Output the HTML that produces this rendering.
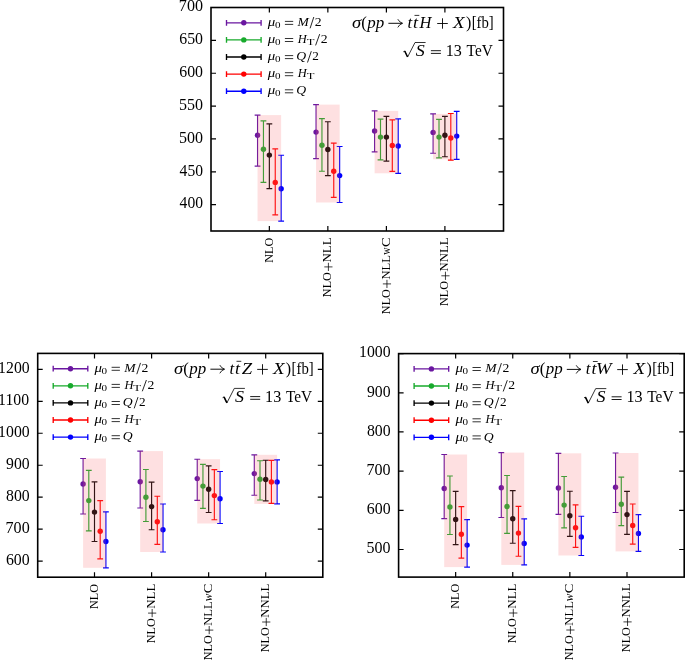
<!DOCTYPE html><html><head><meta charset="utf-8"><style>html,body{margin:0;padding:0;background:#fff;overflow:hidden;width:685px;height:660px;}svg{display:block;will-change:transform;}</style></head><body>
<svg width="685" height="660" viewBox="0 0 685 660" font-family="'Liberation Serif', serif" fill="#000">
<rect width="685" height="660" fill="#fff"/>
<text transform="translate(178.84,11.3) scale(0.9768,1)" font-size="16.5">700</text>
<text transform="translate(179.22,44.16) scale(0.9610,1)" font-size="16.5">650</text>
<text transform="translate(179.22,77.03) scale(0.9610,1)" font-size="16.5">600</text>
<text transform="translate(178.97,109.89) scale(0.9714,1)" font-size="16.5">550</text>
<text transform="translate(178.97,142.76) scale(0.9714,1)" font-size="16.5">500</text>
<text transform="translate(179.6,175.62) scale(0.9454,1)" font-size="16.5">450</text>
<text transform="translate(179.6,208.49) scale(0.9454,1)" font-size="16.5">400</text>
<g transform="translate(272.65,262.4) rotate(-90)">
<text transform="translate(-0.35,0) scale(0.9523,1)" font-size="12.8">NLO</text>
</g>
<g transform="translate(331.15,296.8) rotate(-90)">
<text transform="translate(-0.35,0) scale(0.9523,1)" font-size="12.8">NLO</text>
<path d="M25.8 -2.75H34M29.9 -6.85V1.35" stroke="#000" stroke-width="0.75" fill="none"/>
<text transform="translate(34.23,0) scale(1.0108,1)" font-size="12.8">NLL</text>
</g>
<g transform="translate(389.7,313.8) rotate(-90)">
<text transform="translate(-0.35,0) scale(0.9523,1)" font-size="12.8">NLO</text>
<path d="M25.8 -2.75H34M29.9 -6.85V1.35" stroke="#000" stroke-width="0.75" fill="none"/>
<text transform="translate(34.24,0) scale(0.9855,1)" font-size="12.8">NLL</text>
<text transform="translate(58.99,0) scale(0.7956,1)" font-size="12.8">w</text>
<text transform="translate(66.7,0) scale(1.1360,1)" font-size="12.8">C</text>
</g>
<g transform="translate(448.2,305.7) rotate(-90)">
<text transform="translate(-0.35,0) scale(0.9523,1)" font-size="12.8">NLO</text>
<path d="M25.8 -2.75H34M29.9 -6.85V1.35" stroke="#000" stroke-width="0.75" fill="none"/>
<text transform="translate(34.23,0) scale(0.9973,1)" font-size="12.8">NNLL</text>
</g>
<g stroke="#6a16a0" stroke-width="1.15" fill="#6a16a0"><path d="M257.55 115.1V166.1M254.65 115.1H260.45M254.65 166.1H260.45"/><circle cx="257.55" cy="135.3" r="2.7" stroke="none"/></g>
<g stroke="#18aa2c" stroke-width="1.15" fill="#18aa2c"><path d="M263.45 120.8V182.4M260.55 120.8H266.35M260.55 182.4H266.35"/><circle cx="263.45" cy="149.3" r="2.7" stroke="none"/></g>
<g stroke="#000000" stroke-width="1.15" fill="#000000"><path d="M269.35 123.9V188.6M266.45 123.9H272.25M266.45 188.6H272.25"/><circle cx="269.35" cy="155.1" r="2.7" stroke="none"/></g>
<g stroke="#ff0000" stroke-width="1.15" fill="#ff0000"><path d="M275.25 148.9V214.8M272.35 148.9H278.15M272.35 214.8H278.15"/><circle cx="275.25" cy="182.4" r="2.7" stroke="none"/></g>
<g stroke="#0000ff" stroke-width="1.15" fill="#0000ff"><path d="M281.15 155.2V221.1M278.25 155.2H284.05M278.25 221.1H284.05"/><circle cx="281.15" cy="188.8" r="2.7" stroke="none"/></g>
<rect x="257.55" y="115.1" width="23.6" height="106" fill="rgba(250,100,105,0.2)"/>
<g stroke="#6a16a0" stroke-width="1.15" fill="#6a16a0"><path d="M316.05 104.6V158.6M313.15 104.6H318.95M313.15 158.6H318.95"/><circle cx="316.05" cy="132.1" r="2.7" stroke="none"/></g>
<g stroke="#18aa2c" stroke-width="1.15" fill="#18aa2c"><path d="M321.95 118.6V171.2M319.05 118.6H324.85M319.05 171.2H324.85"/><circle cx="321.95" cy="145.3" r="2.7" stroke="none"/></g>
<g stroke="#000000" stroke-width="1.15" fill="#000000"><path d="M327.85 121.7V175.6M324.95 121.7H330.75M324.95 175.6H330.75"/><circle cx="327.85" cy="149.5" r="2.7" stroke="none"/></g>
<g stroke="#ff0000" stroke-width="1.15" fill="#ff0000"><path d="M333.75 143.1V197.4M330.85 143.1H336.65M330.85 197.4H336.65"/><circle cx="333.75" cy="171.2" r="2.7" stroke="none"/></g>
<g stroke="#0000ff" stroke-width="1.15" fill="#0000ff"><path d="M339.65 146.5V202.5M336.75 146.5H342.55M336.75 202.5H342.55"/><circle cx="339.65" cy="175.6" r="2.7" stroke="none"/></g>
<rect x="316.05" y="104.6" width="23.6" height="97.9" fill="rgba(250,100,105,0.2)"/>
<g stroke="#6a16a0" stroke-width="1.15" fill="#6a16a0"><path d="M374.6 110.9V151.9M371.7 110.9H377.5M371.7 151.9H377.5"/><circle cx="374.6" cy="131" r="2.7" stroke="none"/></g>
<g stroke="#18aa2c" stroke-width="1.15" fill="#18aa2c"><path d="M380.5 119.1V159.8M377.6 119.1H383.4M377.6 159.8H383.4"/><circle cx="380.5" cy="137.1" r="2.7" stroke="none"/></g>
<g stroke="#000000" stroke-width="1.15" fill="#000000"><path d="M386.4 116.4V161.1M383.5 116.4H389.3M383.5 161.1H389.3"/><circle cx="386.4" cy="137.1" r="2.7" stroke="none"/></g>
<g stroke="#ff0000" stroke-width="1.15" fill="#ff0000"><path d="M392.3 119.8V171.4M389.4 119.8H395.2M389.4 171.4H395.2"/><circle cx="392.3" cy="145.4" r="2.7" stroke="none"/></g>
<g stroke="#0000ff" stroke-width="1.15" fill="#0000ff"><path d="M398.2 118.9V173.3M395.3 118.9H401.1M395.3 173.3H401.1"/><circle cx="398.2" cy="146" r="2.7" stroke="none"/></g>
<rect x="374.6" y="110.9" width="23.6" height="62.4" fill="rgba(250,100,105,0.2)"/>
<g stroke="#6a16a0" stroke-width="1.15" fill="#6a16a0"><path d="M433.1 113.9V153.2M430.2 113.9H436M430.2 153.2H436"/><circle cx="433.1" cy="132.4" r="2.7" stroke="none"/></g>
<g stroke="#18aa2c" stroke-width="1.15" fill="#18aa2c"><path d="M439 119.4V157.9M436.1 119.4H441.9M436.1 157.9H441.9"/><circle cx="439" cy="137.1" r="2.7" stroke="none"/></g>
<g stroke="#000000" stroke-width="1.15" fill="#000000"><path d="M444.9 116.4V156.7M442 116.4H447.8M442 156.7H447.8"/><circle cx="444.9" cy="135.3" r="2.7" stroke="none"/></g>
<g stroke="#ff0000" stroke-width="1.15" fill="#ff0000"><path d="M450.8 113.5V160.1M447.9 113.5H453.7M447.9 160.1H453.7"/><circle cx="450.8" cy="138" r="2.7" stroke="none"/></g>
<g stroke="#0000ff" stroke-width="1.15" fill="#0000ff"><path d="M456.7 111.3V159.3M453.8 111.3H459.6M453.8 159.3H459.6"/><circle cx="456.7" cy="136.1" r="2.7" stroke="none"/></g>
<rect x="433.1" y="113.9" width="23.6" height="45.4" fill="rgba(250,100,105,0.2)"/>
<g stroke="#6a16a0" stroke-width="1.3499999999999999" fill="#6a16a0"><path d="M226.5 22.8H261.1M226.5 19.9V25.7M261.1 19.9V25.7"/><circle cx="243.8" cy="22.8" r="2.7" stroke="none"/></g>
<text transform="translate(267.81,26) scale(1.1922,1)" font-size="12.5" font-style="italic">μ</text>
<text transform="translate(274.88,27.9) scale(1.2602,1)" font-size="8.8">0</text>
<path d="M284.9 21.4H293.2M284.9 24.4H293.2" stroke="#000" stroke-width="0.8" fill="none"/>
<text transform="translate(297.56,26) scale(1.0869,1)" font-size="12.5" font-style="italic">M</text>
<path d="M310.1 28.3L313.8 17" stroke="#000" stroke-width="0.85" fill="none"/>
<text transform="translate(314.8,26) scale(1.0976,1)" font-size="12.5">2</text>
<g stroke="#18aa2c" stroke-width="1.3499999999999999" fill="#18aa2c"><path d="M226.5 39.9H261.1M226.5 37V42.8M261.1 37V42.8"/><circle cx="243.8" cy="39.9" r="2.7" stroke="none"/></g>
<text transform="translate(267.81,43.1) scale(1.1922,1)" font-size="12.5" font-style="italic">μ</text>
<text transform="translate(274.88,45) scale(1.2602,1)" font-size="8.8">0</text>
<path d="M284.9 38.5H293.2M284.9 41.5H293.2" stroke="#000" stroke-width="0.8" fill="none"/>
<text transform="translate(297.83,43.1) scale(0.9976,1)" font-size="12.5" font-style="italic">H</text>
<text transform="translate(306.67,44.8) scale(1.4398,1)" font-size="8.8">T</text>
<path d="M315.6 45.4L319.7 34.1" stroke="#000" stroke-width="0.85" fill="none"/>
<text transform="translate(320.7,43.1) scale(1.0976,1)" font-size="12.5">2</text>
<g stroke="#000000" stroke-width="1.3499999999999999" fill="#000000"><path d="M226.5 57H261.1M226.5 54.1V59.9M261.1 54.1V59.9"/><circle cx="243.8" cy="57" r="2.7" stroke="none"/></g>
<text transform="translate(267.81,60.2) scale(1.1922,1)" font-size="12.5" font-style="italic">μ</text>
<text transform="translate(274.88,62.1) scale(1.2602,1)" font-size="8.8">0</text>
<path d="M284.9 55.6H293.2M284.9 58.6H293.2" stroke="#000" stroke-width="0.8" fill="none"/>
<text transform="translate(296.14,60.2) scale(1.0980,1)" font-size="12.5" font-style="italic">Q</text>
<path d="M307.5 62.5L311.3 51.2" stroke="#000" stroke-width="0.85" fill="none"/>
<text transform="translate(312.32,60.2) scale(1.0577,1)" font-size="12.5">2</text>
<g stroke="#ff0000" stroke-width="1.3499999999999999" fill="#ff0000"><path d="M226.5 74.1H261.1M226.5 71.2V77M261.1 71.2V77"/><circle cx="243.8" cy="74.1" r="2.7" stroke="none"/></g>
<text transform="translate(267.81,77.3) scale(1.1922,1)" font-size="12.5" font-style="italic">μ</text>
<text transform="translate(274.88,79.2) scale(1.2602,1)" font-size="8.8">0</text>
<path d="M284.9 72.7H293.2M284.9 75.7H293.2" stroke="#000" stroke-width="0.8" fill="none"/>
<text transform="translate(297.83,77.3) scale(0.9976,1)" font-size="12.5" font-style="italic">H</text>
<text transform="translate(306.67,79) scale(1.4398,1)" font-size="8.8">T</text>
<g stroke="#0000ff" stroke-width="1.3499999999999999" fill="#0000ff"><path d="M226.5 91.2H261.1M226.5 88.3V94.1M261.1 88.3V94.1"/><circle cx="243.8" cy="91.2" r="2.7" stroke="none"/></g>
<text transform="translate(267.81,94.4) scale(1.1922,1)" font-size="12.5" font-style="italic">μ</text>
<text transform="translate(274.88,96.3) scale(1.2602,1)" font-size="8.8">0</text>
<path d="M284.9 89.8H293.2M284.9 92.8H293.2" stroke="#000" stroke-width="0.8" fill="none"/>
<text transform="translate(296.14,94.4) scale(1.0980,1)" font-size="12.5" font-style="italic">Q</text>
<text transform="translate(352.05,27.7) scale(1.1261,1)" font-size="16.5" font-style="italic">σ</text>
<text transform="translate(361.26,27.7) scale(1.0147,1)" font-size="16.5">(</text>
<text transform="translate(367.29,27.7) scale(1.0255,1)" font-size="16.5" font-style="italic">pp</text>
<path d="M388.4 23.3H402.2" stroke="#000" stroke-width="0.95" fill="none"/>
<path d="M397.8 19.2Q399.4 22.4 402.6 23.3Q399.4 24.2 397.8 27.4" stroke="#000" stroke-width="0.85" fill="none"/>
<text transform="translate(407.46,27.7) scale(1.0264,1)" font-size="16.5" font-style="italic">t</text>
<text transform="translate(413.1,27.7) scale(1.0980,1)" font-size="16.5" font-style="italic">t</text>
<path d="M414.5 15.4H419.3" stroke="#000" stroke-width="0.8"/>
<text transform="translate(419.58,27.7) scale(0.9973,1)" font-size="16.5" font-style="italic">H</text>
<path d="M437.2 23.5H447.8M442.5 18.3V28.7" stroke="#000" stroke-width="0.9" fill="none"/>
<text transform="translate(453.03,27.7) scale(1.1471,1)" font-size="16.5" font-style="italic">X</text>
<text transform="translate(465.89,27.7) scale(0.9675,1)" font-size="16.5">)</text>
<text transform="translate(471.71,27.7) scale(0.8930,1)" font-size="16.5">[fb]</text>
<path d="M403.3 51.8L404.7 51L407.6 57L415 42.5H425.6" stroke="#000" stroke-width="0.8" fill="none" stroke-linejoin="miter"/>
<path d="M404.7 51L407.6 57" stroke="#000" stroke-width="1.5" fill="none"/>
<text transform="translate(415.79,55.7) scale(1.0910,1)" font-size="16.5" font-style="italic">S</text>
<path d="M430.9 50.7H440.9M430.9 53.4H440.9" stroke="#000" stroke-width="0.9" fill="none"/>
<text transform="translate(445.78,55.7) scale(0.9788,1)" font-size="16.5">13</text>
<text transform="translate(466.62,55.7) scale(0.9294,1)" font-size="16.5">TeV</text>
<path d="M211 7.5h5.0M503.5 7.5h-5.0M211 40.37h5.0M503.5 40.37h-5.0M211 73.23h5.0M503.5 73.23h-5.0M211 106.09h5.0M503.5 106.09h-5.0M211 138.96h5.0M503.5 138.96h-5.0M211 171.82h5.0M503.5 171.82h-5.0M211 204.69h5.0M503.5 204.69h-5.0M269.35 231v-5.0M269.35 7.5v5.0M327.85 231v-5.0M327.85 7.5v5.0M386.4 231v-5.0M386.4 7.5v5.0M444.9 231v-5.0M444.9 7.5v5.0" stroke="#000" stroke-width="1.2" fill="none"/>
<rect x="211" y="7.5" width="292.5" height="223.5" fill="none" stroke="#000" stroke-width="1.6"/>
<text transform="translate(-1.89,373.1) scale(0.9573,1)" font-size="16.5">1200</text>
<text transform="translate(-1.89,405.08) scale(0.9573,1)" font-size="16.5">1100</text>
<text transform="translate(-1.89,437.06) scale(0.9573,1)" font-size="16.5">1000</text>
<text transform="translate(6.09,469.04) scale(0.9538,1)" font-size="16.5">900</text>
<text transform="translate(6,501.02) scale(0.9577,1)" font-size="16.5">800</text>
<text transform="translate(5.54,533) scale(0.9768,1)" font-size="16.5">700</text>
<text transform="translate(5.92,564.98) scale(0.9610,1)" font-size="16.5">600</text>
<g transform="translate(97.8,608.6) rotate(-90)">
<text transform="translate(-0.35,0) scale(0.9523,1)" font-size="12.8">NLO</text>
</g>
<g transform="translate(154.9,643) rotate(-90)">
<text transform="translate(-0.35,0) scale(0.9523,1)" font-size="12.8">NLO</text>
<path d="M25.8 -2.75H34M29.9 -6.85V1.35" stroke="#000" stroke-width="0.75" fill="none"/>
<text transform="translate(34.23,0) scale(1.0108,1)" font-size="12.8">NLL</text>
</g>
<g transform="translate(211.95,660) rotate(-90)">
<text transform="translate(-0.35,0) scale(0.9523,1)" font-size="12.8">NLO</text>
<path d="M25.8 -2.75H34M29.9 -6.85V1.35" stroke="#000" stroke-width="0.75" fill="none"/>
<text transform="translate(34.24,0) scale(0.9855,1)" font-size="12.8">NLL</text>
<text transform="translate(58.73,0) scale(0.8971,1)" font-size="12.8" font-style="italic">w</text>
<text transform="translate(66.7,0) scale(1.1360,1)" font-size="12.8">C</text>
</g>
<g transform="translate(269,651.9) rotate(-90)">
<text transform="translate(-0.35,0) scale(0.9523,1)" font-size="12.8">NLO</text>
<path d="M25.8 -2.75H34M29.9 -6.85V1.35" stroke="#000" stroke-width="0.75" fill="none"/>
<text transform="translate(34.23,0) scale(0.9973,1)" font-size="12.8">NNLL</text>
</g>
<g stroke="#6a16a0" stroke-width="1.15" fill="#6a16a0"><path d="M83.1 458.5V514M80.2 458.5H86M80.2 514H86"/><circle cx="83.1" cy="484" r="2.7" stroke="none"/></g>
<g stroke="#18aa2c" stroke-width="1.15" fill="#18aa2c"><path d="M88.8 470.4V530.8M85.9 470.4H91.7M85.9 530.8H91.7"/><circle cx="88.8" cy="500.6" r="2.7" stroke="none"/></g>
<g stroke="#000000" stroke-width="1.15" fill="#000000"><path d="M94.5 481.8V541.5M91.6 481.8H97.4M91.6 541.5H97.4"/><circle cx="94.5" cy="512.1" r="2.7" stroke="none"/></g>
<g stroke="#ff0000" stroke-width="1.15" fill="#ff0000"><path d="M100.2 500.6V558.8M97.3 500.6H103.1M97.3 558.8H103.1"/><circle cx="100.2" cy="531.2" r="2.7" stroke="none"/></g>
<g stroke="#0000ff" stroke-width="1.15" fill="#0000ff"><path d="M105.9 511.9V567.8M103 511.9H108.8M103 567.8H108.8"/><circle cx="105.9" cy="541.5" r="2.7" stroke="none"/></g>
<rect x="83.1" y="458.5" width="22.8" height="109.3" fill="rgba(250,100,105,0.2)"/>
<g stroke="#6a16a0" stroke-width="1.15" fill="#6a16a0"><path d="M140.2 451.1V508M137.3 451.1H143.1M137.3 508H143.1"/><circle cx="140.2" cy="481.7" r="2.7" stroke="none"/></g>
<g stroke="#18aa2c" stroke-width="1.15" fill="#18aa2c"><path d="M145.9 469.5V521.5M143 469.5H148.8M143 521.5H148.8"/><circle cx="145.9" cy="497.3" r="2.7" stroke="none"/></g>
<g stroke="#000000" stroke-width="1.15" fill="#000000"><path d="M151.6 482.1V529.7M148.7 482.1H154.5M148.7 529.7H154.5"/><circle cx="151.6" cy="506.6" r="2.7" stroke="none"/></g>
<g stroke="#ff0000" stroke-width="1.15" fill="#ff0000"><path d="M157.3 496.2V544.4M154.4 496.2H160.2M154.4 544.4H160.2"/><circle cx="157.3" cy="521.8" r="2.7" stroke="none"/></g>
<g stroke="#0000ff" stroke-width="1.15" fill="#0000ff"><path d="M163 504V552M160.1 504H165.9M160.1 552H165.9"/><circle cx="163" cy="529.7" r="2.7" stroke="none"/></g>
<rect x="140.2" y="451.1" width="22.8" height="100.9" fill="rgba(250,100,105,0.2)"/>
<g stroke="#6a16a0" stroke-width="1.15" fill="#6a16a0"><path d="M197.25 459.2V500.3M194.35 459.2H200.15M194.35 500.3H200.15"/><circle cx="197.25" cy="478.6" r="2.7" stroke="none"/></g>
<g stroke="#18aa2c" stroke-width="1.15" fill="#18aa2c"><path d="M202.95 464.3V508.4M200.05 464.3H205.85M200.05 508.4H205.85"/><circle cx="202.95" cy="486.1" r="2.7" stroke="none"/></g>
<g stroke="#000000" stroke-width="1.15" fill="#000000"><path d="M208.65 465.9V512.5M205.75 465.9H211.55M205.75 512.5H211.55"/><circle cx="208.65" cy="489.3" r="2.7" stroke="none"/></g>
<g stroke="#ff0000" stroke-width="1.15" fill="#ff0000"><path d="M214.35 469.6V519.7M211.45 469.6H217.25M211.45 519.7H217.25"/><circle cx="214.35" cy="495.6" r="2.7" stroke="none"/></g>
<g stroke="#0000ff" stroke-width="1.15" fill="#0000ff"><path d="M220.05 471.5V523.5M217.15 471.5H222.95M217.15 523.5H222.95"/><circle cx="220.05" cy="498.8" r="2.7" stroke="none"/></g>
<rect x="197.25" y="459.2" width="22.8" height="64.3" fill="rgba(250,100,105,0.2)"/>
<g stroke="#6a16a0" stroke-width="1.15" fill="#6a16a0"><path d="M254.3 454.8V495.2M251.4 454.8H257.2M251.4 495.2H257.2"/><circle cx="254.3" cy="473.6" r="2.7" stroke="none"/></g>
<g stroke="#18aa2c" stroke-width="1.15" fill="#18aa2c"><path d="M260 460.7V500M257.1 460.7H262.9M257.1 500H262.9"/><circle cx="260" cy="479.2" r="2.7" stroke="none"/></g>
<g stroke="#000000" stroke-width="1.15" fill="#000000"><path d="M265.7 460.2V500.9M262.8 460.2H268.6M262.8 500.9H268.6"/><circle cx="265.7" cy="479.5" r="2.7" stroke="none"/></g>
<g stroke="#ff0000" stroke-width="1.15" fill="#ff0000"><path d="M271.4 460.4V503.4M268.5 460.4H274.3M268.5 503.4H274.3"/><circle cx="271.4" cy="481.9" r="2.7" stroke="none"/></g>
<g stroke="#0000ff" stroke-width="1.15" fill="#0000ff"><path d="M277.1 459.9V503.9M274.2 459.9H280M274.2 503.9H280"/><circle cx="277.1" cy="481.9" r="2.7" stroke="none"/></g>
<rect x="254.3" y="454.8" width="22.8" height="49.1" fill="rgba(250,100,105,0.2)"/>
<g stroke="#6a16a0" stroke-width="1.3499999999999999" fill="#6a16a0"><path d="M53.2 368.7H87.8M53.2 365.8V371.6M87.8 365.8V371.6"/><circle cx="70.5" cy="368.7" r="2.7" stroke="none"/></g>
<text transform="translate(94.51,371.9) scale(1.1922,1)" font-size="12.5" font-style="italic">μ</text>
<text transform="translate(101.58,373.8) scale(1.2602,1)" font-size="8.8">0</text>
<path d="M111.6 367.3H119.9M111.6 370.3H119.9" stroke="#000" stroke-width="0.8" fill="none"/>
<text transform="translate(124.26,371.9) scale(1.0869,1)" font-size="12.5" font-style="italic">M</text>
<path d="M136.8 374.2L140.5 362.9" stroke="#000" stroke-width="0.85" fill="none"/>
<text transform="translate(141.5,371.9) scale(1.0976,1)" font-size="12.5">2</text>
<g stroke="#18aa2c" stroke-width="1.3499999999999999" fill="#18aa2c"><path d="M53.2 385.8H87.8M53.2 382.9V388.7M87.8 382.9V388.7"/><circle cx="70.5" cy="385.8" r="2.7" stroke="none"/></g>
<text transform="translate(94.51,389) scale(1.1922,1)" font-size="12.5" font-style="italic">μ</text>
<text transform="translate(101.58,390.9) scale(1.2602,1)" font-size="8.8">0</text>
<path d="M111.6 384.4H119.9M111.6 387.4H119.9" stroke="#000" stroke-width="0.8" fill="none"/>
<text transform="translate(124.53,389) scale(0.9976,1)" font-size="12.5" font-style="italic">H</text>
<text transform="translate(133.37,390.7) scale(1.4398,1)" font-size="8.8">T</text>
<path d="M142.3 391.3L146.4 380" stroke="#000" stroke-width="0.85" fill="none"/>
<text transform="translate(147.4,389) scale(1.0976,1)" font-size="12.5">2</text>
<g stroke="#000000" stroke-width="1.3499999999999999" fill="#000000"><path d="M53.2 402.9H87.8M53.2 400V405.8M87.8 400V405.8"/><circle cx="70.5" cy="402.9" r="2.7" stroke="none"/></g>
<text transform="translate(94.51,406.1) scale(1.1922,1)" font-size="12.5" font-style="italic">μ</text>
<text transform="translate(101.58,408) scale(1.2602,1)" font-size="8.8">0</text>
<path d="M111.6 401.5H119.9M111.6 404.5H119.9" stroke="#000" stroke-width="0.8" fill="none"/>
<text transform="translate(122.84,406.1) scale(1.0980,1)" font-size="12.5" font-style="italic">Q</text>
<path d="M134.2 408.4L138 397.1" stroke="#000" stroke-width="0.85" fill="none"/>
<text transform="translate(139.02,406.1) scale(1.0577,1)" font-size="12.5">2</text>
<g stroke="#ff0000" stroke-width="1.3499999999999999" fill="#ff0000"><path d="M53.2 420H87.8M53.2 417.1V422.9M87.8 417.1V422.9"/><circle cx="70.5" cy="420" r="2.7" stroke="none"/></g>
<text transform="translate(94.51,423.2) scale(1.1922,1)" font-size="12.5" font-style="italic">μ</text>
<text transform="translate(101.58,425.1) scale(1.2602,1)" font-size="8.8">0</text>
<path d="M111.6 418.6H119.9M111.6 421.6H119.9" stroke="#000" stroke-width="0.8" fill="none"/>
<text transform="translate(124.53,423.2) scale(0.9976,1)" font-size="12.5" font-style="italic">H</text>
<text transform="translate(133.37,424.9) scale(1.4398,1)" font-size="8.8">T</text>
<g stroke="#0000ff" stroke-width="1.3499999999999999" fill="#0000ff"><path d="M53.2 437.1H87.8M53.2 434.2V440M87.8 434.2V440"/><circle cx="70.5" cy="437.1" r="2.7" stroke="none"/></g>
<text transform="translate(94.51,440.3) scale(1.1922,1)" font-size="12.5" font-style="italic">μ</text>
<text transform="translate(101.58,442.2) scale(1.2602,1)" font-size="8.8">0</text>
<path d="M111.6 435.7H119.9M111.6 438.7H119.9" stroke="#000" stroke-width="0.8" fill="none"/>
<text transform="translate(122.84,440.3) scale(1.0980,1)" font-size="12.5" font-style="italic">Q</text>
<text transform="translate(174.05,373.6) scale(1.1261,1)" font-size="16.5" font-style="italic">σ</text>
<text transform="translate(183.26,373.6) scale(1.0147,1)" font-size="16.5">(</text>
<text transform="translate(189.29,373.6) scale(1.0255,1)" font-size="16.5" font-style="italic">pp</text>
<path d="M210.4 369.2H224.2" stroke="#000" stroke-width="0.95" fill="none"/>
<path d="M219.8 365.1Q221.4 368.3 224.6 369.2Q221.4 370.1 219.8 373.3" stroke="#000" stroke-width="0.85" fill="none"/>
<text transform="translate(229.46,373.6) scale(1.0264,1)" font-size="16.5" font-style="italic">t</text>
<text transform="translate(235.1,373.6) scale(1.0980,1)" font-size="16.5" font-style="italic">t</text>
<path d="M236.5 361.3H241.3" stroke="#000" stroke-width="0.8"/>
<text transform="translate(241.77,373.6) scale(1.1304,1)" font-size="16.5" font-style="italic">Z</text>
<path d="M257.2 369.4H267.8M262.5 364.2V374.6" stroke="#000" stroke-width="0.9" fill="none"/>
<text transform="translate(272.93,373.6) scale(1.1471,1)" font-size="16.5" font-style="italic">X</text>
<text transform="translate(285.79,373.6) scale(0.9675,1)" font-size="16.5">)</text>
<text transform="translate(291.61,373.6) scale(0.8930,1)" font-size="16.5">[fb]</text>
<path d="M222.6 397.7L224 396.9L226.9 402.9L234.3 388.4H244.9" stroke="#000" stroke-width="0.8" fill="none" stroke-linejoin="miter"/>
<path d="M224 396.9L226.9 402.9" stroke="#000" stroke-width="1.5" fill="none"/>
<text transform="translate(235.09,401.6) scale(1.0910,1)" font-size="16.5" font-style="italic">S</text>
<path d="M250.2 396.6H260.2M250.2 399.3H260.2" stroke="#000" stroke-width="0.9" fill="none"/>
<text transform="translate(265.08,401.6) scale(0.9788,1)" font-size="16.5">13</text>
<text transform="translate(285.92,401.6) scale(0.9294,1)" font-size="16.5">TeV</text>
<path d="M37.7 369.3h5.0M322.8 369.3h-5.0M37.7 401.28h5.0M322.8 401.28h-5.0M37.7 433.26h5.0M322.8 433.26h-5.0M37.7 465.24h5.0M322.8 465.24h-5.0M37.7 497.22h5.0M322.8 497.22h-5.0M37.7 529.2h5.0M322.8 529.2h-5.0M37.7 561.18h5.0M322.8 561.18h-5.0M94.5 577.2v-5.0M94.5 353.4v5.0M151.6 577.2v-5.0M151.6 353.4v5.0M208.65 577.2v-5.0M208.65 353.4v5.0M265.7 577.2v-5.0M265.7 353.4v5.0" stroke="#000" stroke-width="1.2" fill="none"/>
<rect x="37.7" y="353.4" width="285.1" height="223.8" fill="none" stroke="#000" stroke-width="1.6"/>
<text transform="translate(359.01,357.4) scale(0.9573,1)" font-size="16.5">1000</text>
<text transform="translate(366.99,396.58) scale(0.9538,1)" font-size="16.5">900</text>
<text transform="translate(366.9,435.76) scale(0.9577,1)" font-size="16.5">800</text>
<text transform="translate(366.44,474.94) scale(0.9768,1)" font-size="16.5">700</text>
<text transform="translate(366.82,514.12) scale(0.9610,1)" font-size="16.5">600</text>
<text transform="translate(366.57,553.3) scale(0.9714,1)" font-size="16.5">500</text>
<g transform="translate(458.95,608.5) rotate(-90)">
<text transform="translate(-0.35,0) scale(0.9523,1)" font-size="12.8">NLO</text>
</g>
<g transform="translate(516.05,642.9) rotate(-90)">
<text transform="translate(-0.35,0) scale(0.9523,1)" font-size="12.8">NLO</text>
<path d="M25.8 -2.75H34M29.9 -6.85V1.35" stroke="#000" stroke-width="0.75" fill="none"/>
<text transform="translate(34.23,0) scale(1.0108,1)" font-size="12.8">NLL</text>
</g>
<g transform="translate(573.15,659.9) rotate(-90)">
<text transform="translate(-0.35,0) scale(0.9523,1)" font-size="12.8">NLO</text>
<path d="M25.8 -2.75H34M29.9 -6.85V1.35" stroke="#000" stroke-width="0.75" fill="none"/>
<text transform="translate(34.24,0) scale(0.9855,1)" font-size="12.8">NLL</text>
<text transform="translate(58.73,0) scale(0.8971,1)" font-size="12.8" font-style="italic">w</text>
<text transform="translate(66.7,0) scale(1.1360,1)" font-size="12.8">C</text>
</g>
<g transform="translate(630.3,651.8) rotate(-90)">
<text transform="translate(-0.35,0) scale(0.9523,1)" font-size="12.8">NLO</text>
<path d="M25.8 -2.75H34M29.9 -6.85V1.35" stroke="#000" stroke-width="0.75" fill="none"/>
<text transform="translate(34.23,0) scale(0.9973,1)" font-size="12.8">NNLL</text>
</g>
<g stroke="#6a16a0" stroke-width="1.15" fill="#6a16a0"><path d="M444.21 454.5V518.6M441.31 454.5H447.11M441.31 518.6H447.11"/><circle cx="444.21" cy="488.5" r="2.7" stroke="none"/></g>
<g stroke="#18aa2c" stroke-width="1.15" fill="#18aa2c"><path d="M449.93 476V534.5M447.03 476H452.83M447.03 534.5H452.83"/><circle cx="449.93" cy="507" r="2.7" stroke="none"/></g>
<g stroke="#000000" stroke-width="1.15" fill="#000000"><path d="M455.65 491.4V544.6M452.75 491.4H458.55M452.75 544.6H458.55"/><circle cx="455.65" cy="519.4" r="2.7" stroke="none"/></g>
<g stroke="#ff0000" stroke-width="1.15" fill="#ff0000"><path d="M461.37 506.6V558.1M458.47 506.6H464.27M458.47 558.1H464.27"/><circle cx="461.37" cy="534.3" r="2.7" stroke="none"/></g>
<g stroke="#0000ff" stroke-width="1.15" fill="#0000ff"><path d="M467.09 519.6V567.1M464.19 519.6H469.99M464.19 567.1H469.99"/><circle cx="467.09" cy="545.1" r="2.7" stroke="none"/></g>
<rect x="444.21" y="454.5" width="22.88" height="112.6" fill="rgba(250,100,105,0.2)"/>
<g stroke="#6a16a0" stroke-width="1.15" fill="#6a16a0"><path d="M501.31 452.6V517.5M498.41 452.6H504.21M498.41 517.5H504.21"/><circle cx="501.31" cy="487.8" r="2.7" stroke="none"/></g>
<g stroke="#18aa2c" stroke-width="1.15" fill="#18aa2c"><path d="M507.03 475.5V533.4M504.13 475.5H509.93M504.13 533.4H509.93"/><circle cx="507.03" cy="506.5" r="2.7" stroke="none"/></g>
<g stroke="#000000" stroke-width="1.15" fill="#000000"><path d="M512.75 490.6V543.2M509.85 490.6H515.65M509.85 543.2H515.65"/><circle cx="512.75" cy="518.8" r="2.7" stroke="none"/></g>
<g stroke="#ff0000" stroke-width="1.15" fill="#ff0000"><path d="M518.47 506.3V556.2M515.57 506.3H521.37M515.57 556.2H521.37"/><circle cx="518.47" cy="533.1" r="2.7" stroke="none"/></g>
<g stroke="#0000ff" stroke-width="1.15" fill="#0000ff"><path d="M524.19 518.9V564.9M521.29 518.9H527.09M521.29 564.9H527.09"/><circle cx="524.19" cy="543.5" r="2.7" stroke="none"/></g>
<rect x="501.31" y="452.6" width="22.88" height="112.3" fill="rgba(250,100,105,0.2)"/>
<g stroke="#6a16a0" stroke-width="1.15" fill="#6a16a0"><path d="M558.41 453.3V514.4M555.51 453.3H561.31M555.51 514.4H561.31"/><circle cx="558.41" cy="488" r="2.7" stroke="none"/></g>
<g stroke="#18aa2c" stroke-width="1.15" fill="#18aa2c"><path d="M564.13 476.5V527.9M561.23 476.5H567.03M561.23 527.9H567.03"/><circle cx="564.13" cy="505.1" r="2.7" stroke="none"/></g>
<g stroke="#000000" stroke-width="1.15" fill="#000000"><path d="M569.85 491.2V536.4M566.95 491.2H572.75M566.95 536.4H572.75"/><circle cx="569.85" cy="515.7" r="2.7" stroke="none"/></g>
<g stroke="#ff0000" stroke-width="1.15" fill="#ff0000"><path d="M575.57 504.8V547.3M572.67 504.8H578.47M572.67 547.3H578.47"/><circle cx="575.57" cy="527.7" r="2.7" stroke="none"/></g>
<g stroke="#0000ff" stroke-width="1.15" fill="#0000ff"><path d="M581.29 516.2V555.5M578.39 516.2H584.19M578.39 555.5H584.19"/><circle cx="581.29" cy="536.9" r="2.7" stroke="none"/></g>
<rect x="558.41" y="453.3" width="22.88" height="102.2" fill="rgba(250,100,105,0.2)"/>
<g stroke="#6a16a0" stroke-width="1.15" fill="#6a16a0"><path d="M615.56 453V512.5M612.66 453H618.46M612.66 512.5H618.46"/><circle cx="615.56" cy="487.2" r="2.7" stroke="none"/></g>
<g stroke="#18aa2c" stroke-width="1.15" fill="#18aa2c"><path d="M621.28 477.1V525.6M618.38 477.1H624.18M618.38 525.6H624.18"/><circle cx="621.28" cy="504.2" r="2.7" stroke="none"/></g>
<g stroke="#000000" stroke-width="1.15" fill="#000000"><path d="M627 491.4V534.3M624.1 491.4H629.9M624.1 534.3H629.9"/><circle cx="627" cy="514.6" r="2.7" stroke="none"/></g>
<g stroke="#ff0000" stroke-width="1.15" fill="#ff0000"><path d="M632.72 504V544.1M629.82 504H635.62M629.82 544.1H635.62"/><circle cx="632.72" cy="525.5" r="2.7" stroke="none"/></g>
<g stroke="#0000ff" stroke-width="1.15" fill="#0000ff"><path d="M638.44 514.6V551.4M635.54 514.6H641.34M635.54 551.4H641.34"/><circle cx="638.44" cy="533.4" r="2.7" stroke="none"/></g>
<rect x="615.56" y="453" width="22.88" height="98.4" fill="rgba(250,100,105,0.2)"/>
<g stroke="#6a16a0" stroke-width="1.3499999999999999" fill="#6a16a0"><path d="M414.1 368.9H448.7M414.1 366V371.8M448.7 366V371.8"/><circle cx="431.4" cy="368.9" r="2.7" stroke="none"/></g>
<text transform="translate(455.41,372.1) scale(1.1922,1)" font-size="12.5" font-style="italic">μ</text>
<text transform="translate(462.48,374) scale(1.2602,1)" font-size="8.8">0</text>
<path d="M472.5 367.5H480.8M472.5 370.5H480.8" stroke="#000" stroke-width="0.8" fill="none"/>
<text transform="translate(485.16,372.1) scale(1.0869,1)" font-size="12.5" font-style="italic">M</text>
<path d="M497.7 374.4L501.4 363.1" stroke="#000" stroke-width="0.85" fill="none"/>
<text transform="translate(502.4,372.1) scale(1.0976,1)" font-size="12.5">2</text>
<g stroke="#18aa2c" stroke-width="1.3499999999999999" fill="#18aa2c"><path d="M414.1 386H448.7M414.1 383.1V388.9M448.7 383.1V388.9"/><circle cx="431.4" cy="386" r="2.7" stroke="none"/></g>
<text transform="translate(455.41,389.2) scale(1.1922,1)" font-size="12.5" font-style="italic">μ</text>
<text transform="translate(462.48,391.1) scale(1.2602,1)" font-size="8.8">0</text>
<path d="M472.5 384.6H480.8M472.5 387.6H480.8" stroke="#000" stroke-width="0.8" fill="none"/>
<text transform="translate(485.43,389.2) scale(0.9976,1)" font-size="12.5" font-style="italic">H</text>
<text transform="translate(494.27,390.9) scale(1.4398,1)" font-size="8.8">T</text>
<path d="M503.2 391.5L507.3 380.2" stroke="#000" stroke-width="0.85" fill="none"/>
<text transform="translate(508.3,389.2) scale(1.0976,1)" font-size="12.5">2</text>
<g stroke="#000000" stroke-width="1.3499999999999999" fill="#000000"><path d="M414.1 403.1H448.7M414.1 400.2V406M448.7 400.2V406"/><circle cx="431.4" cy="403.1" r="2.7" stroke="none"/></g>
<text transform="translate(455.41,406.3) scale(1.1922,1)" font-size="12.5" font-style="italic">μ</text>
<text transform="translate(462.48,408.2) scale(1.2602,1)" font-size="8.8">0</text>
<path d="M472.5 401.7H480.8M472.5 404.7H480.8" stroke="#000" stroke-width="0.8" fill="none"/>
<text transform="translate(483.74,406.3) scale(1.0980,1)" font-size="12.5" font-style="italic">Q</text>
<path d="M495.1 408.6L498.9 397.3" stroke="#000" stroke-width="0.85" fill="none"/>
<text transform="translate(499.92,406.3) scale(1.0577,1)" font-size="12.5">2</text>
<g stroke="#ff0000" stroke-width="1.3499999999999999" fill="#ff0000"><path d="M414.1 420.2H448.7M414.1 417.3V423.1M448.7 417.3V423.1"/><circle cx="431.4" cy="420.2" r="2.7" stroke="none"/></g>
<text transform="translate(455.41,423.4) scale(1.1922,1)" font-size="12.5" font-style="italic">μ</text>
<text transform="translate(462.48,425.3) scale(1.2602,1)" font-size="8.8">0</text>
<path d="M472.5 418.8H480.8M472.5 421.8H480.8" stroke="#000" stroke-width="0.8" fill="none"/>
<text transform="translate(485.43,423.4) scale(0.9976,1)" font-size="12.5" font-style="italic">H</text>
<text transform="translate(494.27,425.1) scale(1.4398,1)" font-size="8.8">T</text>
<g stroke="#0000ff" stroke-width="1.3499999999999999" fill="#0000ff"><path d="M414.1 437.3H448.7M414.1 434.4V440.2M448.7 434.4V440.2"/><circle cx="431.4" cy="437.3" r="2.7" stroke="none"/></g>
<text transform="translate(455.41,440.5) scale(1.1922,1)" font-size="12.5" font-style="italic">μ</text>
<text transform="translate(462.48,442.4) scale(1.2602,1)" font-size="8.8">0</text>
<path d="M472.5 435.9H480.8M472.5 438.9H480.8" stroke="#000" stroke-width="0.8" fill="none"/>
<text transform="translate(483.74,440.5) scale(1.0980,1)" font-size="12.5" font-style="italic">Q</text>
<text transform="translate(530.45,373.8) scale(1.1261,1)" font-size="16.5" font-style="italic">σ</text>
<text transform="translate(539.66,373.8) scale(1.0147,1)" font-size="16.5">(</text>
<text transform="translate(545.69,373.8) scale(1.0255,1)" font-size="16.5" font-style="italic">pp</text>
<path d="M566.8 369.4H580.6" stroke="#000" stroke-width="0.95" fill="none"/>
<path d="M576.2 365.3Q577.8 368.5 581 369.4Q577.8 370.3 576.2 373.5" stroke="#000" stroke-width="0.85" fill="none"/>
<text transform="translate(585.86,373.8) scale(1.0264,1)" font-size="16.5" font-style="italic">t</text>
<text transform="translate(591.5,373.8) scale(1.0980,1)" font-size="16.5" font-style="italic">t</text>
<path d="M592.9 361.5H597.7" stroke="#000" stroke-width="0.8"/>
<text transform="translate(595.97,373.8) scale(1.1290,1)" font-size="16.5" font-style="italic">W</text>
<path d="M617.2 369.6H627.8M622.5 364.4V374.8" stroke="#000" stroke-width="0.9" fill="none"/>
<text transform="translate(633.53,373.8) scale(1.1471,1)" font-size="16.5" font-style="italic">X</text>
<text transform="translate(646.39,373.8) scale(0.9675,1)" font-size="16.5">)</text>
<text transform="translate(652.21,373.8) scale(0.8930,1)" font-size="16.5">[fb]</text>
<path d="M584 397.9L585.4 397.1L588.3 403.1L595.7 388.6H606.3" stroke="#000" stroke-width="0.8" fill="none" stroke-linejoin="miter"/>
<path d="M585.4 397.1L588.3 403.1" stroke="#000" stroke-width="1.5" fill="none"/>
<text transform="translate(596.49,401.8) scale(1.0910,1)" font-size="16.5" font-style="italic">S</text>
<path d="M611.6 396.8H621.6M611.6 399.5H621.6" stroke="#000" stroke-width="0.9" fill="none"/>
<text transform="translate(626.48,401.8) scale(0.9788,1)" font-size="16.5">13</text>
<text transform="translate(647.32,401.8) scale(0.9294,1)" font-size="16.5">TeV</text>
<path d="M398.6 353.6h5.0M684.2 353.6h-5.0M398.6 392.78h5.0M684.2 392.78h-5.0M398.6 431.96h5.0M684.2 431.96h-5.0M398.6 471.14h5.0M684.2 471.14h-5.0M398.6 510.32h5.0M684.2 510.32h-5.0M398.6 549.5h5.0M684.2 549.5h-5.0M455.65 577.1v-5.0M455.65 353.6v5.0M512.75 577.1v-5.0M512.75 353.6v5.0M569.85 577.1v-5.0M569.85 353.6v5.0M627 577.1v-5.0M627 353.6v5.0" stroke="#000" stroke-width="1.2" fill="none"/>
<rect x="398.6" y="353.6" width="285.6" height="223.5" fill="none" stroke="#000" stroke-width="1.6"/>
</svg></body></html>
